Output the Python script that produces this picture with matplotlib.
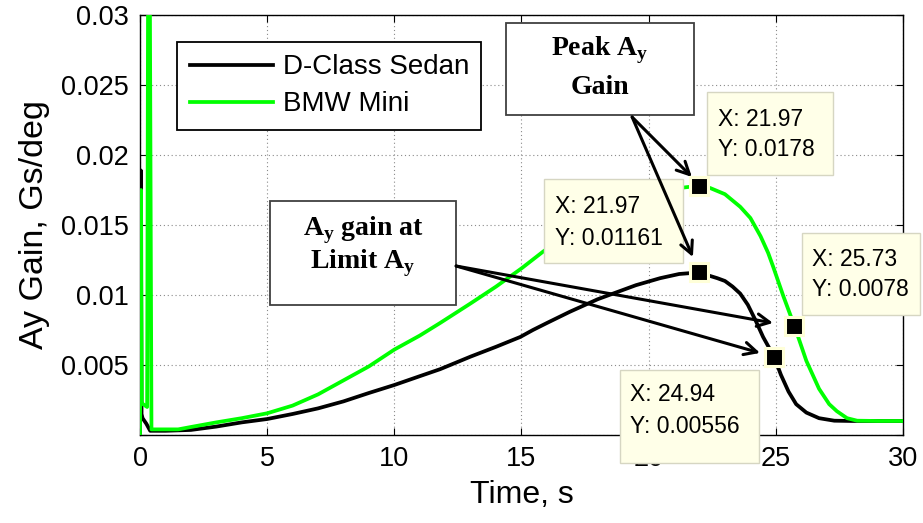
import matplotlib
matplotlib.use("Agg")
import matplotlib.pyplot as plt
from matplotlib import font_manager
from matplotlib.patches import Rectangle

# ---------------- data ----------------
sedan_t = [0.0, 0.03, 0.06, 0.10, 0.25, 0.40, 0.55, 1.0, 2.0, 3.0, 4.0, 5.0, 6.0, 7.0,
           8.0, 9.0, 10.0, 11.0, 11.8, 13.0, 14.0, 14.95, 15.45, 16.0, 16.9, 18.0,
           18.6, 19.5, 20.45, 21.2, 21.97, 22.7, 23.0, 23.3, 23.6, 23.9, 24.2, 24.5,
           24.94, 25.2, 25.5, 25.8, 26.2, 26.7, 27.3, 28.0, 29.0, 30.0]
sedan_y = [0.0, 0.0189, 0.0015, 0.0012, 0.0008, 0.0003, 0.0003, 0.0003, 0.00036, 0.0006,
           0.0009, 0.00114, 0.0015, 0.0019, 0.0024, 0.0030, 0.00357, 0.0042, 0.0047,
           0.0056, 0.0063, 0.0070, 0.0075, 0.0080, 0.0088, 0.0097, 0.0101, 0.0107,
           0.0112, 0.0115, 0.01161, 0.0112, 0.0110, 0.0106, 0.0101, 0.0093, 0.0082,
           0.0070, 0.00556, 0.0043, 0.0031, 0.0022, 0.0016, 0.0012, 0.00102, 0.0010,
           0.0010, 0.0010]

mini_t = [0.0, 0.04, 0.07, 0.12, 0.28, 0.32, 0.38, 0.45, 0.6, 1.0, 1.5, 2.0, 3.0, 4.0,
          5.0, 6.0, 7.0, 7.4, 8.0, 9.0, 10.0, 11.0, 11.8, 13.0, 14.0, 15.0, 15.85,
          17.0, 18.0, 19.0, 20.0, 21.0, 21.97, 22.42, 23.0, 23.6, 24.0, 24.4, 24.7,
          24.9, 25.3, 25.73, 26.2, 26.7, 27.1, 27.4, 27.8, 28.2, 29.0, 30.0]
mini_y = [0.0, 0.0175, 0.0023, 0.0022, 0.0020, 0.035, 0.035, 0.0004, 0.0004, 0.0004,
          0.0004, 0.00057, 0.0009, 0.0012, 0.00155, 0.0021, 0.0029, 0.0033, 0.0039,
          0.0049, 0.0061, 0.0071, 0.0080, 0.0094, 0.0106, 0.0119, 0.0131, 0.0146,
          0.0157, 0.0166, 0.0172, 0.0176, 0.0178, 0.01764, 0.0172, 0.0163, 0.0155,
          0.0142, 0.0130, 0.0120, 0.0099, 0.0078, 0.0053, 0.0033, 0.0022, 0.0017,
          0.0012, 0.00102, 0.0010, 0.0010]

series_labels = ["D-Class Sedan", "BMW Mini"]
tip_x = [21.97, 21.97, 25.73, 24.94]
tip_y = [0.0178, 0.01161, 0.0078, 0.00556]
tip_xtext = ["21.97", "21.97", "25.73", "24.94"]
tip_ytext = ["0.0178", "0.01161", "0.0078", "0.00556"]
x_ticks = [0, 5, 10, 15, 20, 25, 30]
y_ticks = [0.005, 0.01, 0.015, 0.02, 0.025, 0.03]
y_tick_labels = ["0.005", "0.01", "0.015", "0.02", "0.025", "0.03"]

# ---------------- fonts ----------------
avail = {f.name for f in font_manager.fontManager.ttflist}
sans = "Liberation Sans" if "Liberation Sans" in avail else "DejaVu Sans"
narrow = "Liberation Sans Narrow" if "Liberation Sans Narrow" in avail else sans
serif = "Liberation Serif" if "Liberation Serif" in avail else "DejaVu Serif"
plt.rcParams["font.family"] = [sans, "DejaVu Sans"]
plt.rcParams["mathtext.fontset"] = "custom"
plt.rcParams["mathtext.rm"] = serif + ":bold"
plt.rcParams["mathtext.bf"] = serif + ":bold"

fig = plt.figure(figsize=(9.23, 5.23), dpi=100)
ax = fig.add_axes([0.1517, 0.1683, 0.8266, 0.803])

ax.plot(sedan_t, sedan_y, color="black", lw=2.7, label=series_labels[0], zorder=3)
ax.plot(mini_t, mini_y, color="#00ff00", lw=2.7, label=series_labels[1], zorder=3)

ax.set_xlim(0, 30)
ax.set_ylim(0, 0.03)
ax.set_xticks(x_ticks)
ax.set_yticks([0] + y_ticks)
ax.set_yticklabels([""] + y_tick_labels, fontsize=19.5, family=sans)
ax.set_xticklabels([str(v) for v in x_ticks], fontsize=19.5, family=narrow)
ax.tick_params(direction="in", top=True, right=True, length=5, width=0.8, pad=8)
ax.grid(True, color="#8a8a8a", linestyle=(0, (1, 2.5)), lw=0.8)
for s in ax.spines.values():
    s.set_linewidth(1.0)
ax.set_xlabel("Time, s", fontsize=23, family=narrow, labelpad=6)
ax.set_ylabel("Ay Gain, Gs/deg", fontsize=24.5, family=sans, labelpad=8)

leg = ax.legend(loc="upper left", bbox_to_anchor=(0.0485, 0.936), borderaxespad=0,
                fontsize=20, handlelength=3.0, handletextpad=0.35, labelspacing=0.4,
                borderpad=0.45, fancybox=False, framealpha=1, edgecolor="black")
leg.get_frame().set_linewidth(1.3)
for h in leg.get_lines():
    h.set_linewidth(2.7)

# ---------------- data tips ----------------
tip_boxes = [(22.29, 0.01857, 4.96, 0.00593), (15.88, 0.01229, 5.47, 0.006),
             (26.03, 0.00857, 4.64, 0.00586), (18.87, -0.0020, 5.47, 0.00664)]
tip_text_pos = [(22.73, 0.02257, 0.02036), (16.32, 0.01629, 0.01407),
                (26.42, 0.0125, 0.01036), (19.27, 0.00286, 0.00057)]
for (bx, by, bw, bh), (tx, ty1, ty2), xs, ys in zip(tip_boxes, tip_text_pos, tip_xtext, tip_ytext):
    ax.add_patch(Rectangle((bx, by), bw, bh, facecolor="#ffffe8", edgecolor="#d6d6c2",
                           lw=1.0, clip_on=False, zorder=5))
    ax.text(tx, ty1, "X: " + xs, fontsize=16.5, va="center", ha="left", zorder=6, clip_on=False)
    ax.text(tx, ty2, "Y: " + ys, fontsize=16.5, va="center", ha="left", zorder=6, clip_on=False)

ax.plot(tip_x, tip_y, linestyle="none", marker="s", ms=13.5, mfc="black",
        mec="#ffffd8", mew=2.2, zorder=8, clip_on=False)

# ---------------- annotation boxes ----------------
ann_boxes = [(14.39, 0.02286, 7.39, 0.00657), (5.11, 0.00929, 7.32, 0.00742)]
for bx, by, bw, bh in ann_boxes:
    ax.add_patch(Rectangle((bx, by), bw, bh, facecolor="white", edgecolor="#404040",
                           lw=1.3, clip_on=False, zorder=7))
ax.text(18.09, 0.0275, r"Peak A$_\mathrm{y}$", fontsize=20, family=serif, weight="bold",
        ha="center", va="center", zorder=8)
ax.text(18.09, 0.02479, "Gain", fontsize=20, family=serif, weight="bold",
        ha="center", va="center", zorder=8)
ax.text(8.77, 0.01464, r"A$_\mathrm{y}$ gain at", fontsize=20, family=serif, weight="bold",
        ha="center", va="center", zorder=8)
ax.text(8.77, 0.01229, r"Limit A$_\mathrm{y}$", fontsize=20, family=serif, weight="bold",
        ha="center", va="center", zorder=8)

arrowprops = dict(arrowstyle="->,head_length=0.9,head_width=0.45", color="black", lw=2.2,
                  shrinkA=0, shrinkB=0)
for (sx, sy), (ex, ey) in [((19.35, 0.02271), (21.70, 0.01843)),
                           ((19.35, 0.02271), (21.74, 0.01271)),
                           ((12.43, 0.01207), (24.89, 0.0080)),
                           ((12.43, 0.01207), (24.38, 0.00586))]:
    ax.annotate("", xy=(ex, ey), xytext=(sx, sy), arrowprops=arrowprops, zorder=7.5,
                annotation_clip=False)

fig.savefig("out.png", dpi=100)
